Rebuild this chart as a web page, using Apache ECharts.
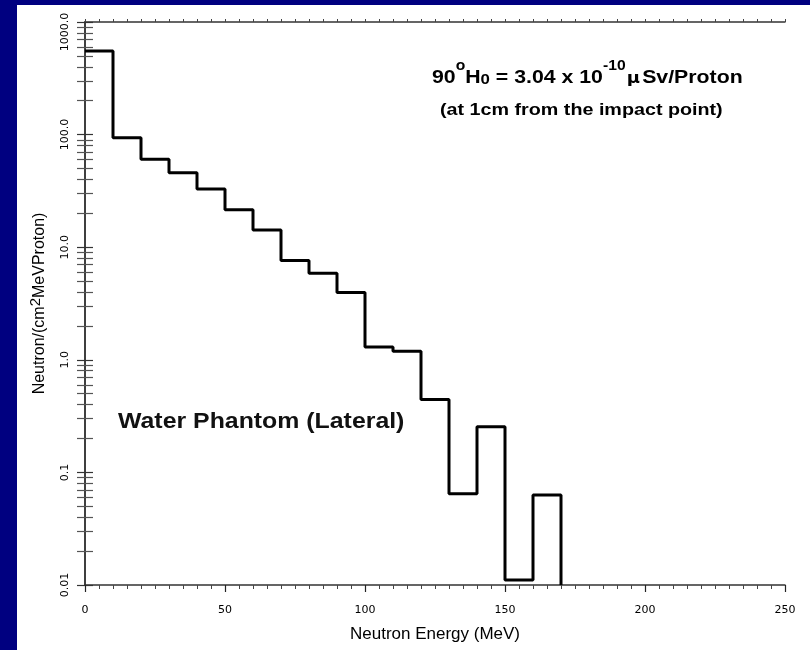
<!DOCTYPE html>
<html>
<head>
<meta charset="utf-8">
<script src="https://cdn.jsdelivr.net/npm/echarts@6/dist/echarts.min.js"></script>
<style>
  html, body { margin: 0; padding: 0; background: #000080; }
  #chart { width: 810px; height: 650px; }
</style>
</head>
<body>
<div id="chart"></div>
<script>
// Bin lower edges (MeV), bin width 10 MeV
const binStart = [0, 10, 20, 30, 40, 50, 60, 70, 80, 90, 100, 110, 120, 130, 140, 150, 160];
const binWidth = 10;
// Neutron fluence per bin, Neutron/(cm2 MeV Proton)
const flux = [553, 94, 60.5, 45.8, 32.8, 21.5, 14.2, 7.6, 5.86, 3.97, 1.30, 1.19, 0.444, 0.0646, 0.254, 0.0111, 0.063];
// Axis settings
const xTicks = [0, 50, 100, 150, 200, 250];
const yMin = 0.01, yMax = 1000;

const lastEdge = binStart[binStart.length - 1] + binWidth;
const stepData = binStart.map((x, i) => [x, flux[i]]);
stepData.push([lastEdge, yMin]);

const chart = echarts.init(document.getElementById('chart'));

const tickLabelFont = { fontFamily: 'DejaVu Sans', fontSize: 11, color: '#000' };
const axisLine = { show: true, lineStyle: { color: '#333', width: 1.5 } };

function yFmt(v) {
  if (v >= yMax) return '{top|' + v.toFixed(1) + '}';
  if (v < 1) return String(+v.toPrecision(3));
  return v.toFixed(1);
}

const F = 'Liberation Sans';
chart.setOption({
  backgroundColor: '#000080',
  animation: false,
  graphic: [
    { type: 'rect', z: -10, shape: { x: 17, y: 5, width: 793, height: 645 }, style: { fill: '#fff' } },
    {
      type: 'text', x: 432, y: 59, scaleX: 1.12, z: 10,
      style: {
        text: '{n|90}{sup|o}{n|H}{sub|0}{n| = 3.04 x 10}{sup|-10}{mu|\u03bc}{n|Sv/Proton}',
        textVerticalAlign: 'top',
        rich: {
          n: { fontFamily: F, fontWeight: 'bold', fontSize: 19, fill: '#000', verticalAlign: 'bottom', lineHeight: 28 },
          sup: { fontFamily: F, fontWeight: 'bold', fontSize: 14, fill: '#000', verticalAlign: 'top', lineHeight: 28, padding: [0, 0, 12, 0] },
          sub: { fontFamily: F, fontWeight: 'bold', fontSize: 15, fill: '#000', verticalAlign: 'bottom', lineHeight: 28, padding: [5, 0, 0, 0] },
          mu: { fontFamily: 'DejaVu Sans', fontWeight: 'bold', fontSize: 16, fill: '#000', verticalAlign: 'bottom', lineHeight: 28, padding: [0, 2, 0, 1] }
        }
      }
    },
    {
      type: 'text', x: 440, y: 102, scaleX: 1.16, z: 10,
      style: { text: '(at 1cm from the impact point)', font: 'bold 17px "Liberation Sans"', fill: '#000', textVerticalAlign: 'top' }
    },
    {
      type: 'text', x: 118, y: 411, scaleX: 1.13, z: 10,
      style: { text: 'Water Phantom (Lateral)', font: 'bold 22px "Liberation Sans"', fill: '#111', textVerticalAlign: 'top' }
    }
  ],
  grid: { left: 85, top: 22, right: 25, bottom: 65, containLabel: false },
  xAxis: [
    {
      type: 'value', position: 'bottom', min: xTicks[0], max: xTicks[xTicks.length - 1], interval: 50,
      axisLine: axisLine,
      axisTick: { show: true, inside: false, length: 7, lineStyle: { color: '#222', width: 1.2 } },
      minorTick: { show: true, splitNumber: 10, length: 4, lineStyle: { color: '#444', width: 1 } },
      splitLine: { show: false },
      axisLabel: Object.assign({ margin: 20 }, tickLabelFont),
      name: 'Neutron Energy (MeV)', nameLocation: 'middle', nameGap: 41,
      nameTextStyle: { fontFamily: F, fontSize: 17, color: '#000' }
    },
    {
      type: 'value', position: 'top', min: xTicks[0], max: xTicks[xTicks.length - 1], interval: 50,
      axisLine: axisLine,
      axisTick: { show: true, inside: false, length: 3, lineStyle: { color: '#444' } },
      minorTick: { show: true, splitNumber: 10, length: 3, lineStyle: { color: '#444' } },
      splitLine: { show: false },
      axisLabel: { show: false }
    }
  ],
  yAxis: [
    {
      type: 'log', logBase: 10, min: yMin, max: yMax, position: 'left',
      axisLine: axisLine,
      axisTick: { show: true, inside: false, length: 8, lineStyle: { color: '#333', width: 1.2 } },
      minorTick: { show: true, splitNumber: 9, length: 8, lineStyle: { color: '#555', width: 1.2 } },
      splitLine: { show: false },
      axisLabel: Object.assign({ rotate: 90, margin: 14, formatter: yFmt, rich: { top: { fontFamily: 'DejaVu Sans', fontSize: 11, color: '#000', padding: [0, 20, 0, 0] } } }, tickLabelFont),
      name: 'Neutron/(cm{sup|2}MeVProton)', nameLocation: 'middle', nameGap: 34, nameRotate: 90,
      nameTextStyle: {
        fontFamily: F, fontSize: 16, color: '#000',
        rich: { sup: { fontFamily: F, fontSize: 15, color: '#000', verticalAlign: 'bottom', padding: [0, 0, 8, 0] } }
      }
    },
    {
      type: 'log', logBase: 10, min: yMin, max: yMax, position: 'right',
      axisLine: axisLine,
      axisTick: { show: true, inside: false, length: 8, lineStyle: { color: '#333', width: 1.2 } },
      minorTick: { show: true, splitNumber: 9, length: 8, lineStyle: { color: '#555', width: 1.2 } },
      splitLine: { show: false },
      axisLabel: { show: false }
    }
  ],
  series: [
    {
      type: 'line', step: 'end', xAxisIndex: 0, yAxisIndex: 0,
      data: stepData, showSymbol: false, symbol: 'none',
      lineStyle: { color: '#000', width: 3 }, clip: true
    }
  ]
});
</script>
</body>
</html>
